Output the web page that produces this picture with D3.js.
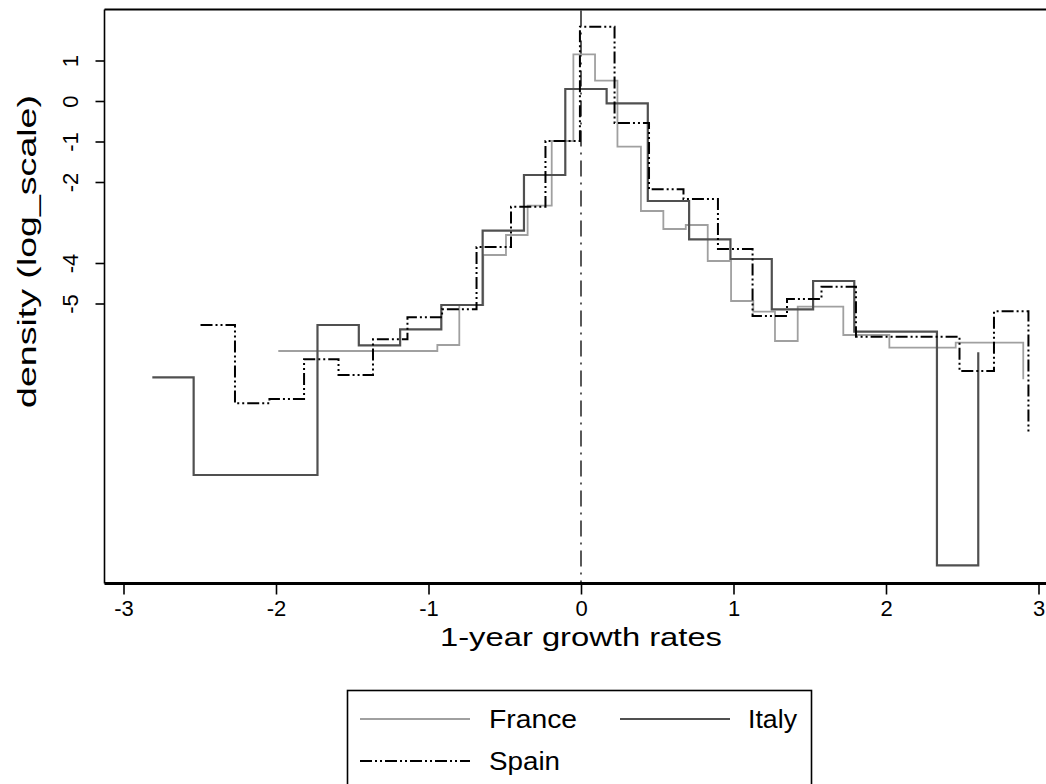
<!DOCTYPE html>
<html><head><meta charset="utf-8">
<script src="https://cdn.jsdelivr.net/npm/d3@7"></script>
<style>body{margin:0;background:#fff} text{font-family:"Liberation Sans",Arial,sans-serif;fill:#000}</style>
</head><body><svg id="c" width="1046" height="784"></svg>
<script>
// ---- data ----
const xTicks = [-3, -2, -1, 0, 1, 2, 3];
const yTicks = [1, 0, -1, -2, -4, -5];
const seriesNames = ["France", "Italy", "Spain"];

const franceX = [-1.985, -0.942, -0.798, -0.641, -0.492, -0.350, -0.192, -0.050, 0.092, 0.239, 0.393, 0.540, 0.687, 0.831, 0.984, 1.130, 1.272, 1.421, 1.720, 2.022, 2.457, 2.900];
const franceY = [-6.173, -6.025, -5.037, -3.802, -3.309, -2.585, -0.988, 1.153, 0.501, -1.128, -2.716, -3.160, -3.062, -3.951, -4.938, -5.202, -5.926, -5.079, -5.778, -6.091, -5.968, -6.872];

const italyX = [-2.811, -2.540, -1.728, -1.457, -1.186, -0.916, -0.645, -0.374, -0.103, 0.168, 0.438, 0.709, 0.980, 1.251, 1.522, 1.792, 2.334, 2.605];
const italyY = [-6.822, -9.235, -5.531, -6.032, -5.637, -5.037, -3.202, -1.827, 0.296, -0.057, -2.469, -3.415, -3.901, -5.143, -4.444, -5.696, -11.464, -6.205];

const spainX = [-2.495, -2.269, -2.043, -1.816, -1.590, -1.364, -1.138, -0.911, -0.685, -0.459, -0.233, -0.007, 0.220, 0.446, 0.672, 0.898, 1.125, 1.351, 1.577, 1.803, 2.482, 2.708, 2.934];
const spainY = [-5.531, -7.464, -7.358, -6.378, -6.765, -5.884, -5.341, -5.143, -3.605, -2.610, -0.988, 1.835, -0.543, -2.180, -2.420, -3.654, -5.309, -4.889, -4.585, -5.820, -6.667, -5.193, -8.198];

// ---- layout ----
const svg = d3.select("#c");
const pLeft = 104.5, pTop = 9.5, pBottom = 583.5, pRight = 1070;
const x = d3.scaleLinear().domain([-3, 3]).range([123.5, 1038.5]);
const y = d3.scaleLinear().domain([1, -5]).range([60.5, 303.5]);
const fmt = d => String(d);

// frame (top + left)
svg.append("line").attr("x1", pLeft).attr("x2", pRight).attr("y1", pTop).attr("y2", pTop)
  .attr("stroke", "#000").attr("stroke-width", 2);
svg.append("line").attr("x1", pLeft).attr("x2", pLeft).attr("y1", pTop).attr("y2", pBottom)
  .attr("stroke", "#000").attr("stroke-width", 1.6);

// x axis
const xAxis = svg.append("g").attr("transform", `translate(0,${pBottom})`)
  .call(d3.axisBottom(x).tickValues(xTicks).tickSize(11).tickPadding(6).tickFormat(fmt));
xAxis.select(".domain").attr("d", `M${pLeft},0H${pRight}`).attr("stroke-width", 3);
xAxis.selectAll(".tick line").attr("stroke-width", 1.6);
xAxis.selectAll(".tick text").attr("font-size", 22).style("font-size", "22px").attr("fill", "#000");

// y axis
const yAxis = svg.append("g").attr("transform", `translate(${pLeft},0)`)
  .call(d3.axisLeft(y).tickValues(yTicks).tickSize(9).tickFormat(fmt));
yAxis.select(".domain").remove();
yAxis.selectAll(".tick line").attr("stroke-width", 1.6);
yAxis.selectAll(".tick text").attr("transform", "rotate(-90)").attr("x", 0).attr("y", -27)
  .attr("text-anchor", "middle").attr("dy", "0").attr("font-size", 22).style("font-size", "22px").attr("fill", "#000");

// axis titles
svg.append("text").attr("x", x(0)).attr("y", 646).attr("text-anchor", "middle")
  .attr("textLength", 282).attr("lengthAdjust", "spacingAndGlyphs")
  .style("font-size", "25px").text("1-year growth rates");
svg.append("text").attr("transform", "translate(36,251.5) rotate(-90)").attr("text-anchor", "middle")
  .attr("textLength", 313).attr("lengthAdjust", "spacingAndGlyphs")
  .style("font-size", "26px").text("density (log_scale)");

// zero reference line
svg.append("line").attr("x1", x(0)).attr("x2", x(0)).attr("y1", pTop + 1).attr("y2", pBottom - 1)
  .attr("stroke", "#000").attr("stroke-width", 1.3).attr("stroke-dasharray", "16,6,2,6");

// series
const styles = {
  France: {stroke: "#a0a0a0", width: 1.8, dash: null},
  Italy: {stroke: "#505050", width: 2.2, dash: null},
  Spain: {stroke: "#000", width: 2, dash: "12,3,2,3,2,3"}
};
const data = {
  France: franceX.map((v, i) => [v, franceY[i]]),
  Italy: italyX.map((v, i) => [v, italyY[i]]),
  Spain: spainX.map((v, i) => [v, spainY[i]])
};
const line = d3.line().x(d => x(d[0])).y(d => y(d[1])).curve(d3.curveStepAfter);
seriesNames.forEach(n => {
  svg.append("path").datum(data[n]).attr("d", line).attr("fill", "none")
    .attr("stroke", styles[n].stroke).attr("stroke-width", styles[n].width)
    .attr("stroke-dasharray", styles[n].dash);
});

// legend
const lg = svg.append("g");
lg.append("rect").attr("x", 347.5).attr("y", 690.5).attr("width", 464).attr("height", 130)
  .attr("fill", "#fff").attr("stroke", "#000").attr("stroke-width", 1.6);
const items = [
  {n: "France", kx: 360, tx: 489, ly: 719, w: 88},
  {n: "Italy", kx: 620, tx: 748, ly: 719, w: 49},
  {n: "Spain", kx: 360, tx: 489, ly: 761, w: 71}
];
items.forEach(it => {
  lg.append("line").attr("x1", it.kx).attr("x2", it.kx + 110).attr("y1", it.ly).attr("y2", it.ly)
    .attr("stroke", styles[it.n].stroke).attr("stroke-width", styles[it.n].width)
    .attr("stroke-dasharray", styles[it.n].dash);
  lg.append("text").attr("x", it.tx).attr("y", it.ly + 9).style("font-size", "26px")
    .attr("textLength", it.w).attr("lengthAdjust", "spacingAndGlyphs").text(it.n);
});
</script></body></html>
